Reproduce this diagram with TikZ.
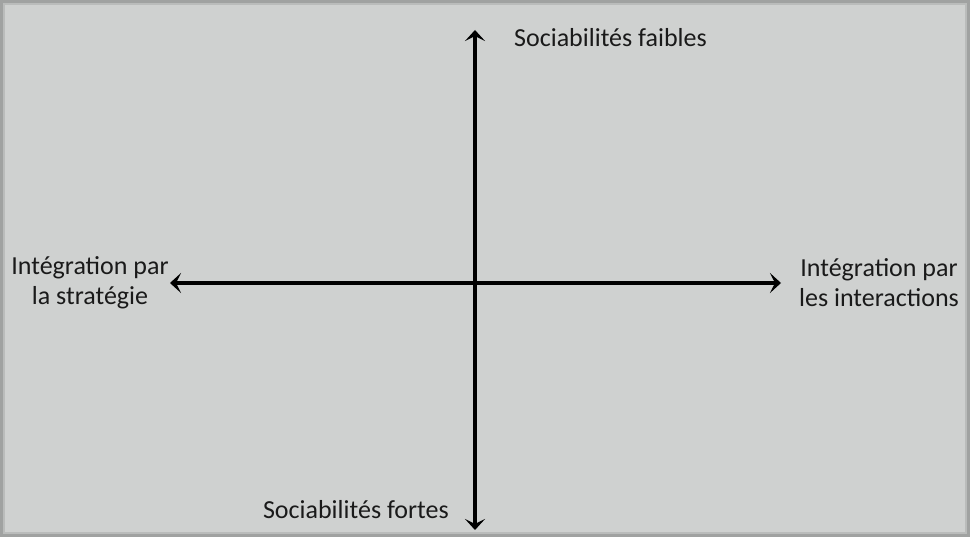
\documentclass[tikz,border=0pt]{standalone}
\usepackage{fontspec}
\setmainfont{Carlito}
\usetikzlibrary{arrows.meta}
\definecolor{bg}{HTML}{CFD1D0}
\definecolor{edge}{HTML}{A0A2A1}
\definecolor{edgein}{HTML}{BABCBB}
\definecolor{txt}{HTML}{1A1A1A}
\tikzset{
  axis/.style={line width=3.5pt, {Stealth[length=11pt,width=20pt,inset=5pt]}-{Stealth[length=11pt,width=20pt,inset=5pt]}},
  lbl/.style={font=\fontsize{26}{30}\selectfont, text=txt, inner sep=0pt, align=center}
}
\begin{document}
\begin{tikzpicture}[x=1pt,y=-1pt]
\useasboundingbox (0,0) rectangle (970,537);
\fill[bg] (0,0) rectangle (970,537);
\draw[edge, line width=3pt] (1.5,1.5) rectangle (968.5,535.5);
\draw[edgein, line width=2pt] (4,4) rectangle (966,533);
\coordinate (top) at (475,30);
\coordinate (bot) at (475,530);
\coordinate (lft) at (170,283);
\coordinate (rgt) at (781,283);
\draw[axis] (bot) -- (top);
\draw[axis] (lft) -- (rgt);
\node[lbl, anchor=west] (sf) at (514,38) {Sociabilités faibles};
\node[lbl, anchor=east] (sfo) at (449,510) {Sociabilités fortes};
\node[lbl] (is) at (90,283) {Intégration par\\la stratégie};
\node[lbl] (ii) at (879,283) {Intégration par\\les interactions};
\end{tikzpicture}
\end{document}
